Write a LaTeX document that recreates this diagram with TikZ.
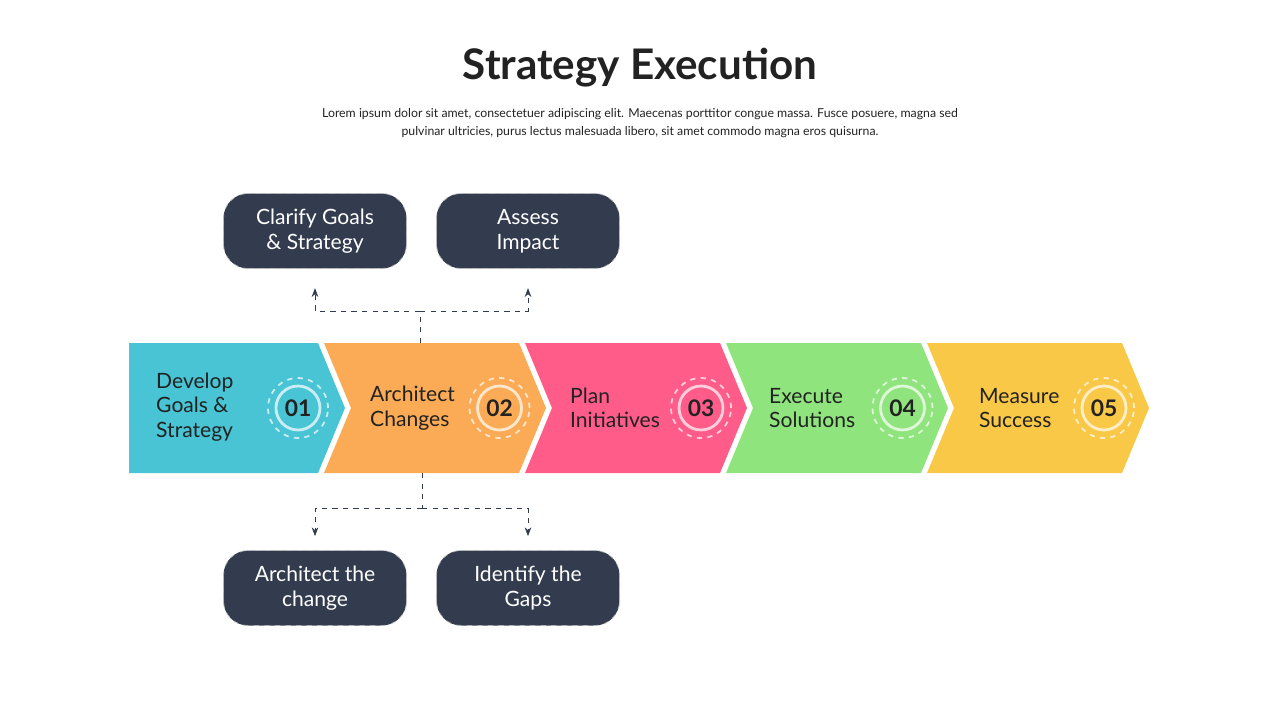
\documentclass[tikz,border=0pt]{standalone}
\usepackage{fontspec}
\setmainfont{Lato}
\usetikzlibrary{arrows.meta}
\definecolor{boxdark}{HTML}{333C4E}
\definecolor{stepA}{HTML}{48C4D4}
\definecolor{stepB}{HTML}{FBAB55}
\definecolor{stepC}{HTML}{FF5C8A}
\definecolor{stepD}{HTML}{90E47E}
\definecolor{stepE}{HTML}{F9C846}
\definecolor{inktext}{HTML}{222222}
\tikzset{
    taskbox/.style={draw=gray!60, dashed, fill=boxdark, rounded corners=14pt, minimum width=3.66cm, minimum height=1.5cm, text=white, font=\fontsize{12}{14}\selectfont, align=center},
    steptext/.style={anchor=west, text=inktext, font=\fontsize{12}{14}\selectfont, align=left},
    stepnum/.style={circle, fill=#1, draw=white!70!#1, line width=1.6pt, minimum size=0.88cm, inner sep=0pt, font=\bfseries\fontsize{13}{14}\selectfont, text=inktext},
    linkline/.style={draw=boxdark, dashed, thin},
}
\begin{document}
\begin{tikzpicture}[x=0.02cm, y=-0.02cm]
    \useasboundingbox (0,0) rectangle (1280,720);

    % Title
    \node[font=\bfseries\fontsize{24}{28}\selectfont, text=inktext] (title) at (640,68) {Strategy Execution};
    \node[font=\fontsize{7}{10.5}\selectfont, text=inktext, align=center] (subtitle) at (640,123) {Lorem ipsum dolor sit amet, consectetuer adipiscing elit. Maecenas porttitor congue massa. Fusce posuere, magna sed\\pulvinar ultricies, purus lectus malesuada libero, sit amet commodo magna eros quisurna.};

    % Chevrons
    \fill[stepA] (129,343) -- (318,343) -- (345,408) -- (318,473) -- (129,473) -- cycle;
    \foreach \i/\col in {1/stepB, 2/stepC, 3/stepD, 4/stepE} {
        \fill[\col] ({123+201*\i},343) -- ({318+201*\i},343) -- ({345+201*\i},408) -- ({318+201*\i},473) -- ({123+201*\i},473) -- ({150+201*\i},408) -- cycle;
    }

    % Step labels and numbers
    \node[steptext] (t1) at (150,407) {Develop\\Goals \&\\Strategy};
    \node[steptext] (t2) at (364,408) {Architect\\Changes};
    \node[steptext] (t3) at (564,408) {Plan\\Initiatives};
    \node[steptext] (t4) at (763,408) {Execute\\Solutions};
    \node[steptext] (t5) at (973,408) {Measure\\Success};
    \foreach \i/\col in {1/stepA, 2/stepB, 3/stepC, 4/stepD, 5/stepE} {
        \node[stepnum=\col] (n\i) at ({298+201.5*(\i-1)},408) {0\i};
        \draw[white!70!\col, dashed, line width=1pt] (n\i) circle (0.6cm);
    }

    % Task boxes
    \node[taskbox] (goals) at (315,231) {Clarify Goals\\\& Strategy};
    \node[taskbox] (impact) at (528,231) {Assess\\Impact};
    \node[taskbox] (change) at (315,588) {Architect the\\change};
    \node[taskbox] (gaps) at (528,588) {Identify the\\Gaps};

    % Connectors
    \coordinate (upjoin) at (420,311);
    \coordinate (downjoin) at (422,508);
    \draw[linkline] (420,343) -- (upjoin);
    \draw[linkline, -{Stealth[length=5pt]}] (upjoin) -| ([yshift=-11pt]goals.south);
    \draw[linkline, -{Stealth[length=5pt]}] (upjoin) -| ([yshift=-11pt]impact.south);
    \draw[linkline] (422,473) -- (downjoin);
    \draw[linkline, -{Stealth[length=5pt]}] (downjoin) -| ([yshift=8pt]change.north);
    \draw[linkline, -{Stealth[length=5pt]}] (downjoin) -| ([yshift=8pt]gaps.north);
\end{tikzpicture}
\end{document}
